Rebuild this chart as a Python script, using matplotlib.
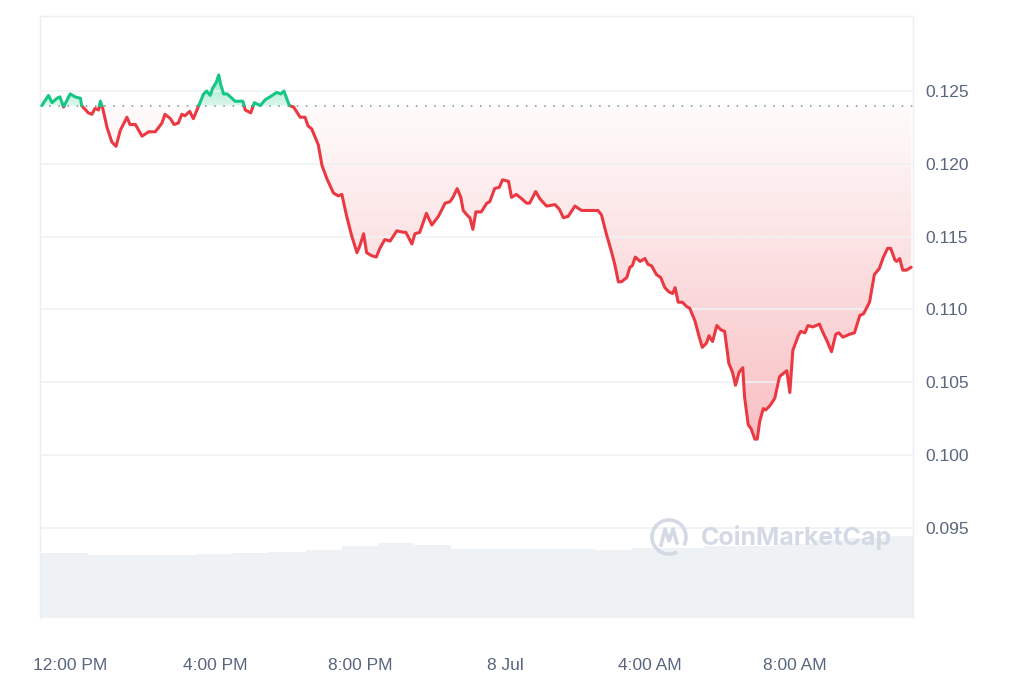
import numpy as np
import pandas as pd
import matplotlib
matplotlib.use("Agg")
import matplotlib.pyplot as plt
import matplotlib.dates as mdates
from matplotlib.patches import Polygon, Arc
from matplotlib.lines import Line2D

############### data
start = pd.Timestamp("2024-07-07 12:00")
base_price = 0.1240

minutes = [-47, -36, -30, -22, -17, -11, 0, 8, 17, 19,
           30, 36, 41, 47, 50, 54, 61, 69, 76, 83,
           94, 99, 108, 119, 130, 141, 152, 157, 166, 172,
           179, 185, 190, 198, 204, 212, 221, 226, 232, 236,
           242, 246, 249, 254, 260, 268, 273, 286, 290, 299,
           305, 315, 323, 331, 342, 349, 354, 363, 370, 381,
           389, 394, 400, 411, 417, 425, 436, 444, 450, 458,
           466, 475, 480, 486, 491, 499, 507, 513, 521, 530,
           541, 552, 556, 566, 571, 579, 590, 599, 610, 621,
           629, 634, 641, 647, 651, 657, 662, 667, 672, 681,
           690, 695, 703, 711, 716, 726, 731, 739, 748, 756,
           761, 771, 778, 789, 803, 810, 817, 825, 836, 847,
           874, 880, 888, 897, 902, 908, 913, 922, 927, 931,
           936, 944, 952, 957, 963, 971, 978, 985, 992, 998,
           1002, 1007, 1014, 1021, 1026, 1035, 1042, 1047, 1054, 1058,
           1064, 1071, 1078, 1084, 1091, 1097, 1102, 1108, 1114, 1117,
           1123, 1128, 1134, 1138, 1142, 1148, 1152, 1159, 1167, 1175,
           1181, 1187, 1192, 1197, 1206, 1210, 1217, 1222, 1230, 1241,
           1246, 1254, 1261, 1268, 1273, 1280, 1291, 1299, 1308, 1314,
           1324, 1332, 1340, 1347, 1354, 1359, 1366, 1369, 1374, 1379,
           1385, 1393]

prices = [0.1240, 0.1247, 0.1242, 0.1245, 0.1246, 0.1239, 0.1248, 0.1246, 0.1245, 0.1240,
          0.1235, 0.1234, 0.1238, 0.1237, 0.1243, 0.1238, 0.1225, 0.1215, 0.1212, 0.1223,
          0.1232, 0.1227, 0.1227, 0.1219, 0.1222, 0.1222, 0.1228, 0.1234, 0.1231, 0.1227,
          0.1228, 0.1234, 0.1233, 0.1236, 0.1231, 0.1239, 0.1248, 0.1250, 0.1247, 0.1252,
          0.1256, 0.1261, 0.1255, 0.1248, 0.1248, 0.1245, 0.1243, 0.1243, 0.1237, 0.1235,
          0.1242, 0.1240, 0.1244, 0.1246, 0.1249, 0.1248, 0.1250, 0.1240, 0.1239, 0.1232,
          0.1232, 0.1226, 0.1224, 0.1213, 0.1199, 0.1190, 0.1180, 0.1178, 0.1179, 0.1164,
          0.1151, 0.1139, 0.1144, 0.1152, 0.1139, 0.1137, 0.1136, 0.1142, 0.1148, 0.1147,
          0.1154, 0.1153, 0.1153, 0.1145, 0.1152, 0.1153, 0.1166, 0.1158, 0.1164, 0.1173,
          0.1174, 0.1177, 0.1183, 0.1177, 0.1168, 0.1165, 0.1163, 0.1155, 0.1167, 0.1167,
          0.1173, 0.1174, 0.1183, 0.1184, 0.1189, 0.1188, 0.1177, 0.1179, 0.1176, 0.1173,
          0.1173, 0.1181, 0.1176, 0.1171, 0.1172, 0.1169, 0.1163, 0.1164, 0.1171, 0.1168,
          0.1168, 0.1165, 0.1152, 0.1139, 0.1131, 0.1119, 0.1119, 0.1122, 0.1129, 0.1130,
          0.1136, 0.1133, 0.1135, 0.1131, 0.1130, 0.1124, 0.1122, 0.1115, 0.1112, 0.1111,
          0.1115, 0.1105, 0.1105, 0.1102, 0.1101, 0.1092, 0.1081, 0.1074, 0.1077, 0.1082,
          0.1078, 0.1089, 0.1086, 0.1085, 0.1063, 0.1057, 0.1048, 0.1057, 0.1060, 0.1040,
          0.1021, 0.1018, 0.1011, 0.1011, 0.1023, 0.1032, 0.1031, 0.1034, 0.1039, 0.1054,
          0.1056, 0.1058, 0.1043, 0.1072, 0.1082, 0.1085, 0.1084, 0.1089, 0.1088, 0.1090,
          0.1085, 0.1078, 0.1071, 0.1083, 0.1084, 0.1081, 0.1083, 0.1084, 0.1096, 0.1097,
          0.1105, 0.1124, 0.1128, 0.1136, 0.1142, 0.1142, 0.1134, 0.1133, 0.1135, 0.1127,
          0.1127, 0.1129]

# volume (arbitrary units), one value per hour
vol_hours = [-0.85, 0, 1, 2, 3, 4, 5, 6, 7, 8, 9, 10, 11, 12,
             13, 14, 15, 16, 17, 18, 19, 20, 21, 22, 23, 23.3]
volume = [65, 65, 63, 63, 63, 64, 65, 66, 68, 72, 75, 73, 69, 69,
          69, 69, 68, 70, 70, 72, 72, 74, 78, 80, 82, 82]

tick_hours = [0, 4, 8, 12, 16, 20]
tick_labels = ["12:00 PM", "4:00 PM", "8:00 PM", "8 Jul", "4:00 AM", "8:00 AM"]
price_ticks = [0.095, 0.100, 0.105, 0.110, 0.115, 0.120, 0.125]

assert len(minutes) == len(prices)

RED = "#ea3943"
GREEN = "#16c784"
LABEL = "#58667e"

############### prep
t = mdates.date2num((start + pd.to_timedelta(minutes, unit="m")).to_pydatetime())
p = np.array(prices)

# insert crossing points so red/green split exactly on the baseline
tt, pp = [t[0]], [p[0]]
for i in range(1, len(p)):
    a, b = p[i - 1] - base_price, p[i] - base_price
    if a * b < 0:
        f = a / (a - b)
        tt.append(t[i - 1] + f * (t[i] - t[i - 1]))
        pp.append(base_price)
    tt.append(t[i])
    pp.append(p[i])
tt = np.array(tt)
pp = np.array(pp)

plt.rcParams['font.family'] = ['Liberation Sans', 'DejaVu Sans']
fig = plt.figure(figsize=(10.24, 6.83), dpi=100)
ax = fig.add_axes([40 / 1024, 65 / 683, 873 / 1024, 602 / 683])
ax2 = ax.twinx()
ax.set_zorder(ax2.get_zorder() + 1)
ax.patch.set_visible(False)

############### volume
vt = mdates.date2num((start + pd.to_timedelta(vol_hours, unit="h")).to_pydatetime())
ax2.fill_between(vt, 0, volume, step="mid", color="#eff2f5", lw=0)
ax2.set_ylim(0, 602)
ax2.set_yticks([])
for s in ax2.spines.values():
    s.set_visible(False)


############### gradient fills
def grad_fill(lower, upper, color, a_low, a_high):
    verts = list(zip(tt, upper)) + list(zip(tt[::-1], lower[::-1]))
    poly = Polygon(verts, closed=True, facecolor="none", edgecolor="none",
                   transform=ax.transData)
    ax.add_patch(poly)
    y0, y1 = lower.min(), upper.max()
    rgb = matplotlib.colors.to_rgb(color)
    n = 256
    img = np.zeros((n, 1, 4))
    img[:, 0, :3] = rgb
    img[:, 0, 3] = np.linspace(a_low, a_high, n)
    im = ax.imshow(img, extent=[tt[0], tt[-1], y0, y1], origin="lower",
                   aspect="auto", interpolation="bilinear", zorder=1)
    im.set_clip_path(poly)


below = np.minimum(pp, base_price)
above = np.maximum(pp, base_price)
grad_fill(below, np.full_like(pp, base_price), RED, 0.32, 0.02)
grad_fill(np.full_like(pp, base_price), above, GREEN, 0.15, 0.45)

############### line
red = np.where(pp <= base_price, pp, np.nan)
green = np.where(pp >= base_price, pp, np.nan)
ax.plot(tt, red, color=RED, lw=2.2, zorder=3, solid_capstyle="round")
ax.plot(tt, green, color=GREEN, lw=2.2, zorder=3, solid_capstyle="round")
ax.axhline(base_price, color="#808a9d", lw=1.1, ls=(0, (1, 5)), zorder=2)

############### axes
xmin = mdates.date2num((start - pd.Timedelta(minutes=50)).to_pydatetime())
xmax = mdates.date2num((start + pd.Timedelta(minutes=1396)).to_pydatetime())
ax.set_xlim(xmin, xmax)
ax2.set_xlim(xmin, xmax)
ax.set_ylim(0.08882, 0.13015)

ax.yaxis.tick_right()
ax.set_yticks(price_ticks)
ax.set_yticklabels(["%.3f" % v for v in price_ticks])
ax.tick_params(axis="y", length=0, pad=9, labelsize=12.5, labelcolor=LABEL)
ax.grid(axis="y", color="#eff2f5", lw=1.2, zorder=0)

xt = mdates.date2num((start + pd.to_timedelta(tick_hours, unit="h")).to_pydatetime())
ax.set_xticks(xt)
ax.set_xticklabels(tick_labels)
ax.tick_params(axis="x", length=0, pad=29, labelsize=12.5, labelcolor=LABEL)

for side in ["top", "left", "right"]:
    ax.spines[side].set_color("#eceef1")
    ax.spines[side].set_linewidth(1)
ax.spines["bottom"].set_visible(False)

############### watermark
def fx(px):
    return px / 1024


def fy(py):
    return (683 - py) / 683


wm = "#d3dae6"
fig.text(fx(701), fy(537), "CoinMarketCap", color=wm, fontsize=18,
         fontweight="bold", family=["Inter", "DejaVu Sans"], va="center", ha="left",
         zorder=10)
fig.add_artist(Arc((fx(669), fy(537)), 34 / 1024, 34 / 683, theta1=-40, theta2=290,
                   color=wm, lw=2.6, transform=fig.transFigure, zorder=10))
mx = [661, 665, 669, 673, 677]
my = [545, 529, 541, 529, 543]
fig.add_artist(Line2D([fx(v) for v in mx], [fy(v) for v in my], color=wm, lw=2.6,
                      solid_joinstyle="round", transform=fig.transFigure, zorder=10))

fig.savefig("out.png", dpi=100, facecolor="white")
